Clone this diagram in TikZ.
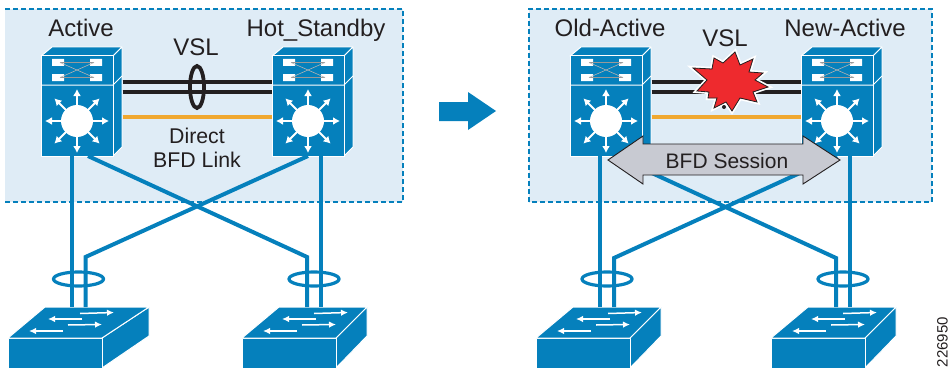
\documentclass[tikz,border=0pt]{standalone}
\usepackage{fontspec}
\usetikzlibrary{arrows.meta}
\setmainfont{Liberation Sans}
\definecolor{cisco}{HTML}{0580BC}
\definecolor{panelfill}{HTML}{DFECF6}
\definecolor{bfdline}{HTML}{F0A830}
\definecolor{inkline}{HTML}{231F20}
\definecolor{arrowgrey}{HTML}{C8CAD2}
\definecolor{burst}{HTML}{EE2A2E}
\tikzset{
  x=1pt,y=-1pt,
  panel/.style={fill=panelfill,draw=none},
  paneledge/.style={draw=cisco,line width=2pt,dash pattern=on 5pt off 3pt},
  vsl/.style={draw=inkline,line width=3.8pt},
  bfd/.style={draw=bfdline,line width=4pt},
  uplink/.style={draw=cisco,line width=4pt,line join=miter},
  ring/.style={draw=cisco,line width=3.2pt},
  vslring/.style={draw=inkline,line width=3.8pt},
  lbl/.style={font=\fontsize{24}{24}\selectfont,text=inkline,inner sep=0pt,anchor=base},
  smalllbl/.style={font=\fontsize{21.3}{21.3}\selectfont,text=inkline,inner sep=0pt,anchor=base},
  wface/.style={fill=cisco,draw=white,line width=1pt,line join=round},
  warrow/.style={draw=white,line width=1.5pt,-{Latex[length=7pt,width=6.5pt]}},
  warrowb/.style={draw=white,line width=1.9pt,-{Latex[length=7pt,width=8pt]}},
  burstshape/.style={insert path={
    (693,68) -- (712,69) -- (714,58) -- (723,63) -- (735,52) -- (740,65) -- (753,59) -- (749,72) -- (763,73) -- (755,80) -- (768,87)
    -- (753,92) -- (757,102) -- (740,98) -- (732,111) -- (726,102) -- (714,108) -- (717,98) -- (708,98) -- (709,92) -- (697,91) -- (707,80) -- cycle}},
  pics/chassis/.style={code={
    \coordinate (-e1) at (72,26);
    \coordinate (-e2) at (72,36);
    \coordinate (-e3) at (72,61);
    \coordinate (-w1) at (0,26);
    \coordinate (-w2) at (0,36);
    \coordinate (-w3) at (0,61);
    \coordinate (-sw) at (0,100);
    \path[wface] (0,0) -- (11,-9) -- (81,-9) -- (72,0) -- cycle;
    \path[wface] (72,0) -- (81,-9) -- (81,91) -- (72,100) -- cycle;
    \path[wface] (0,0) rectangle (72,100);
    \draw[white,line width=1pt] (0,29) -- (72,29) -- (81,20);
    \fill[white] (11,3) rectangle (23,10) (49,3) rectangle (61,10)
                 (11,18) rectangle (23,25) (49,18) rectangle (61,25);
    \draw[black!40,line width=1pt] (19,6.500) -- (53,6.500) (19,21.500) -- (53,21.500);
    \draw[black!30,line width=.6pt] (19,6.500) -- (53,21.500) (19,21.500) -- (53,6.500);
    \fill[white] (36,65) circle (16);
    \foreach \a in {0,45,...,315}{
      \draw[warrowb] (36,65) ++(\a:14) -- ++(\a:18);
    }
  }},
  pics/access/.style={code={
    \coordinate (-nw) at (0,0);
    \path[wface] (94,31) -- (#1,0) -- (#1,29) -- (94,61) -- cycle;
    \path[wface] (0,31) -- (94,31) -- (94,61) -- (0,61) -- cycle;
    \path[wface] (0,31) -- (37,0) -- (#1,0) -- (94,31) -- cycle;
    \draw[warrow] (72,6.500) -- (106,5.500);
    \draw[warrow] (74,12) -- (40,12);
    \draw[warrow] (60,18) -- (94,17.500);
    \draw[warrow] (55,24) -- (21,24);
  }},
}
\begin{document}
\begin{tikzpicture}
\useasboundingbox (0,0) rectangle (950,369);
% panels
\path[panel] (5,9) rectangle (403,202);
\path[panel] (529,9) rectangle (932,202);
\draw[paneledge] (5,9) -- (403,9) -- (403,202) -- (5,202);
\draw[paneledge] (529,202) -- (529,9) -- (932,9) -- (932,202) -- cycle;
% uplinks
\coordinate (kneeA) at (85.500,257);
\coordinate (kneeB) at (307,257);
\coordinate (kneeC) at (614,258);
\coordinate (kneeD) at (836,258);
\coordinate (dropA) at (71.500,307);
\coordinate (dropAb) at (85.500,307);
\coordinate (dropB) at (307,307);
\coordinate (dropBb) at (321,307);
\coordinate (dropC) at (600,307);
\coordinate (dropCb) at (614,307);
\coordinate (dropD) at (836,307);
\coordinate (dropDb) at (850,307);
% devices
\pic (act) at (41,56) {chassis};
\pic (hot) at (272,56) {chassis};
\pic (old) at (570,56) {chassis};
\pic (new) at (801,56) {chassis};
\pic (swa) at (8,307) {access=141};
\pic (swb) at (242,307) {access=125};
\pic (swc) at (536,307) {access=125};
\pic (swd) at (771,307) {access=125};
\draw[uplink] ([xshift=30.5pt]act-sw) -- (dropA);
\draw[uplink] ([xshift=47pt]act-sw) -- (kneeB) -- (dropB);
\draw[uplink] ([xshift=49pt]hot-sw) -- (dropBb);
\draw[uplink] ([xshift=36pt]hot-sw) -- (kneeA) -- (dropAb);
\draw[uplink] ([xshift=30pt]old-sw) -- (dropC);
\draw[uplink] ([xshift=45pt]old-sw) -- (kneeD) -- (dropD);
\draw[uplink] ([xshift=49pt]new-sw) -- (dropDb);
\draw[uplink] ([xshift=36pt]new-sw) -- (kneeC) -- (dropCb);
\draw[ring] (78.500,279) ellipse (25 and 7);
\draw[ring] (314,279) ellipse (25 and 7);
\draw[ring] (607,279) ellipse (25 and 7);
\draw[ring] (843,279) ellipse (25 and 7);
% peer links
\coordinate (actE1) at ([xshift=9.5pt]act-e1);
\coordinate (actE2) at ([xshift=9.5pt]act-e2);
\coordinate (actE3) at ([xshift=9.5pt]act-e3);
\coordinate (oldE1) at ([xshift=9.5pt]old-e1);
\coordinate (oldE2) at ([xshift=9.5pt]old-e2);
\coordinate (oldE3) at ([xshift=9.5pt]old-e3);
\draw[vsl] (actE1) -- (hot-w1);
\draw[vsl] (actE2) -- (hot-w2);
\draw[bfd] (actE3) -- (hot-w3);
\draw[vsl] (oldE1) -- (new-w1);
\draw[vsl] (oldE2) -- (new-w2);
\draw[bfd] (oldE3) -- (new-w3);
\draw[vslring] (197,87) ellipse (7 and 21);
% labels
\node[lbl] (tact) at (81,37) {Active};
\node[lbl] (thot) at (316,37) {Hot\_Standby};
\node[lbl] (tvsl) at (196,56) {VSL};
\node[smalllbl] (tbfda) at (197,143) {Direct};
\node[smalllbl] (tbfdb) at (197,167) {BFD Link};
\node[lbl] (told) at (610,37) {Old-Active};
\node[lbl] (tnew) at (845,37) {New-Active};
\node[lbl] (tvslb) at (725,47) {VSL};
% burst
\path[fill=burst,draw=white,line width=4.2pt,line join=miter,miter limit=4,burstshape];
\path[fill=burst,draw=inkline,line width=.8pt,line join=miter,burstshape];
\fill[inkline] (724,107) circle (2);
% bfd session arrow
\path[fill=arrowgrey,draw=inkline,line width=.9pt]
 (608,160) -- (643,136) -- (643,144) -- (803,144) -- (803,136) -- (840,160) -- (803,184) -- (803,175) -- (643,175) -- (643,184) -- cycle;
\node[font=\fontsize{21}{21}\selectfont,text=inkline,inner sep=0pt,anchor=base] (tsess) at (727,168) {BFD Session};
% big arrow
\fill[cisco] (439,102) -- (468,102) -- (468,92) -- (496,111) -- (468,130) -- (468,121) -- (439,121) -- cycle;
\node[rotate=90,font=\fontsize{15}{15}\selectfont,text=inkline,inner sep=0pt] (fig) at (942.500,342) {226950};
\end{tikzpicture}
\end{document}
